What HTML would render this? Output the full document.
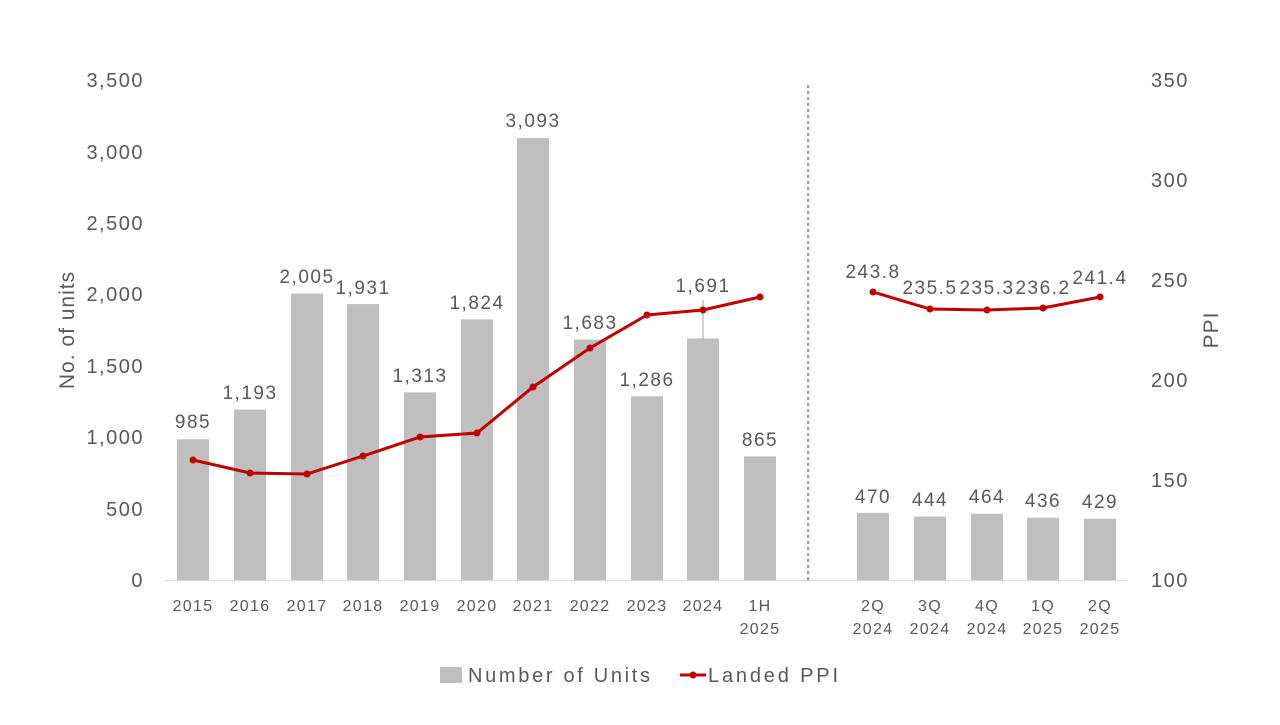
<!DOCTYPE html>
<html><head><meta charset="utf-8"><style>
html,body{margin:0;padding:0;background:#fff;}
svg text{font-family:"Liberation Sans","DejaVu Sans",sans-serif;fill:#595959;}
</style></head><body>
<svg width="1280" height="720" viewBox="0 0 1280 720" xmlns="http://www.w3.org/2000/svg">
<g font-size="20" text-anchor="end" letter-spacing="1.5">
<text x="144" y="587">0</text>
<text x="144" y="516">500</text>
<text x="144" y="444">1,000</text>
<text x="144" y="373">1,500</text>
<text x="144" y="301">2,000</text>
<text x="144" y="230">2,500</text>
<text x="144" y="159">3,000</text>
<text x="144" y="87">3,500</text>
</g>
<g font-size="20" text-anchor="start" letter-spacing="1.5">
<text x="1151" y="587">100</text>
<text x="1151" y="487">150</text>
<text x="1151" y="387">200</text>
<text x="1151" y="287">250</text>
<text x="1151" y="187">300</text>
<text x="1151" y="87">350</text>
</g>
<text font-size="21" letter-spacing="1" transform="translate(74,330) rotate(-90)" text-anchor="middle">No. of units</text>
<text font-size="21" letter-spacing="1" transform="translate(1218,330) rotate(-90)" text-anchor="middle">PPI</text>
<line x1="165" y1="580.5" x2="1128" y2="580.5" stroke="#d9d9d9" stroke-width="1"/>
<line x1="808" y1="85" x2="808" y2="580" stroke="#c00000" stroke-width="1" stroke-dasharray="3,3"/>
<g fill="#bfbfbf">
<rect x="177" y="439.3" width="32" height="140.7"/>
<rect x="234" y="409.6" width="32" height="170.4"/>
<rect x="291" y="293.6" width="32" height="286.4"/>
<rect x="347" y="304.1" width="32" height="275.9"/>
<rect x="404" y="392.4" width="32" height="187.6"/>
<rect x="461" y="319.4" width="32" height="260.6"/>
<rect x="517" y="138.1" width="32" height="441.9"/>
<rect x="574" y="339.6" width="32" height="240.4"/>
<rect x="631" y="396.3" width="32" height="183.7"/>
<rect x="687" y="338.4" width="32" height="241.6"/>
<rect x="744" y="456.4" width="32" height="123.6"/>
<rect x="857" y="512.9" width="32" height="67.1"/>
<rect x="914" y="516.6" width="32" height="63.4"/>
<rect x="971" y="513.7" width="32" height="66.3"/>
<rect x="1027" y="517.7" width="32" height="62.3"/>
<rect x="1084" y="518.7" width="32" height="61.3"/>
</g>
<line x1="703" y1="300" x2="703" y2="340" stroke="#a6a6a6" stroke-width="1"/>
<g font-size="19" text-anchor="middle" letter-spacing="1.5">
<text x="193" y="428">985</text>
<text x="250" y="399">1,193</text>
<text x="307" y="283">2,005</text>
<text x="363" y="294">1,931</text>
<text x="420" y="382">1,313</text>
<text x="477" y="309">1,824</text>
<text x="533" y="127">3,093</text>
<text x="590" y="329">1,683</text>
<text x="647" y="386">1,286</text>
<text x="703" y="292">1,691</text>
<text x="760" y="446">865</text>
<text x="873" y="503">470</text>
<text x="930" y="506">444</text>
<text x="987" y="503">464</text>
<text x="1043" y="507">436</text>
<text x="1100" y="508">429</text>
<text x="873" y="278">243.8</text>
<text x="930" y="294">235.5</text>
<text x="987" y="294">235.3</text>
<text x="1043" y="294">236.2</text>
<text x="1100" y="284">241.4</text>
</g>
<polyline fill="none" stroke="#c00000" stroke-width="3" points="193,460 250,473 307,474 363,456 420,437 477,433 533,387 590,348 647,315 703,310 760,297"/>
<polyline fill="none" stroke="#c00000" stroke-width="3" points="873,292 930,309 987,310 1043,308 1100,297"/>
<g fill="#c00000">
<circle cx="193" cy="460" r="3.5"/><circle cx="250" cy="473" r="3.5"/><circle cx="307" cy="474" r="3.5"/><circle cx="363" cy="456" r="3.5"/><circle cx="420" cy="437" r="3.5"/><circle cx="477" cy="433" r="3.5"/><circle cx="533" cy="387" r="3.5"/><circle cx="590" cy="348" r="3.5"/><circle cx="647" cy="315" r="3.5"/><circle cx="703" cy="310" r="3.5"/><circle cx="760" cy="297" r="3.5"/>
<circle cx="873" cy="292" r="3.5"/><circle cx="930" cy="309" r="3.5"/><circle cx="987" cy="310" r="3.5"/><circle cx="1043" cy="308" r="3.5"/><circle cx="1100" cy="297" r="3.5"/>
</g>
<g font-size="16" text-anchor="middle" letter-spacing="1.3">
<text x="193" y="611">2015</text><text x="250" y="611">2016</text><text x="307" y="611">2017</text><text x="363" y="611">2018</text><text x="420" y="611">2019</text><text x="477" y="611">2020</text><text x="533" y="611">2021</text><text x="590" y="611">2022</text><text x="647" y="611">2023</text><text x="703" y="611">2024</text>
<text x="760" y="611">1H</text><text x="760" y="634">2025</text>
<text x="873" y="611">2Q</text><text x="873" y="634">2024</text>
<text x="930" y="611">3Q</text><text x="930" y="634">2024</text>
<text x="987" y="611">4Q</text><text x="987" y="634">2024</text>
<text x="1043" y="611">1Q</text><text x="1043" y="634">2025</text>
<text x="1100" y="611">2Q</text><text x="1100" y="634">2025</text>
</g>
<rect x="440" y="667" width="22" height="16" fill="#bfbfbf"/>
<text x="468" y="682" font-size="20" textLength="182" lengthAdjust="spacing">Number of Units</text>
<line x1="680" y1="675" x2="706" y2="675" stroke="#c00000" stroke-width="3"/>
<circle cx="693" cy="675" r="3.5" fill="#c00000"/>
<text x="708" y="682" font-size="20" textLength="130" lengthAdjust="spacing">Landed PPI</text>
</svg>
</body></html>
